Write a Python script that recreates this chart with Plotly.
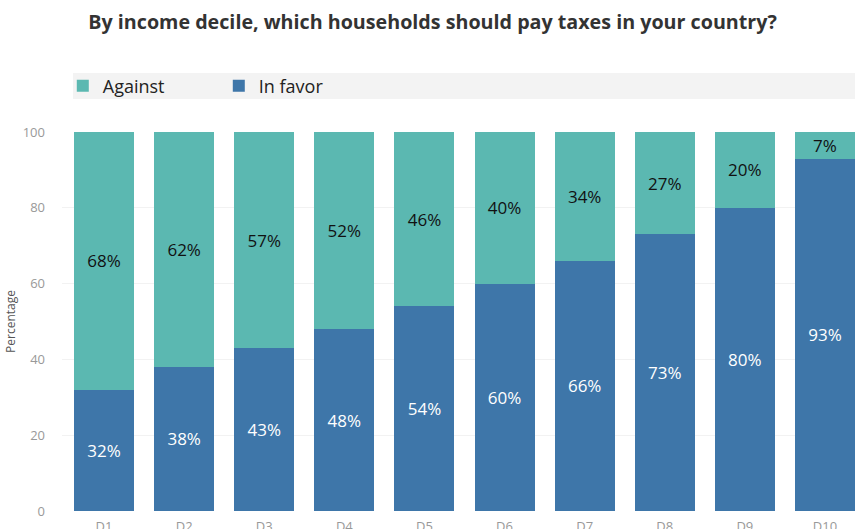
import plotly.graph_objects as go

deciles = ["D1", "D2", "D3", "D4", "D5", "D6", "D7", "D8", "D9", "D10"]
in_favor = [32, 38, 43, 48, 54, 60, 66, 73, 80, 93]
against = [68, 62, 57, 52, 46, 40, 34, 27, 20, 7]

FONT = "Open Sans"
fig = go.Figure()
fig.add_trace(go.Bar(
    x=deciles, y=in_favor, name="In favor", marker_color="#3e76a9",
    text=[f"{v}%" for v in in_favor], textposition="inside", constraintext="none",
    insidetextanchor="middle", textfont=dict(color="white", size=17, family=FONT),
    marker_line_width=0,
))
fig.add_trace(go.Bar(
    x=deciles, y=against, name="Against", marker_color="#5bb8b1",
    text=[f"{v}%" for v in against], textposition="inside", constraintext="none",
    insidetextanchor="middle", textfont=dict(color="#111111", size=17, family=FONT),
    marker_line_width=0,
))

fig.add_shape(type="rect", xref="paper", yref="paper", x0=0.0139, x1=1.0,
              y0=1.087, y1=1.156, fillcolor="#f3f3f3", line_width=0, layer="below")

fig.update_layout(
    width=860, height=529,
    barmode="stack", bargap=0.25,
    uniformtext=dict(minsize=17, mode="show"),
    margin=dict(l=62, r=5, t=132, b=18),
    paper_bgcolor="white", plot_bgcolor="white",
    font=dict(family=FONT, color="#444444"),
    title=dict(text="<b>By income decile, which households should pay taxes in your country?</b>",
               x=0.503, xanchor="center", y=0.958, yanchor="middle",
               font=dict(size=19.7, color="#333333", family=FONT)),
    legend=dict(orientation="h", x=0.001, xanchor="left", y=1.1214, yanchor="middle",
                traceorder="reversed", entrywidth=111, bgcolor="rgba(0,0,0,0)",
                font=dict(size=18, color="#222222", family=FONT), itemclick=False),
    showlegend=True,
)
fig.update_yaxes(range=[0, 100], tickvals=[0, 20, 40, 60, 80, 100],
                 gridcolor="#f2f2f2", zeroline=False, automargin=False,
                 ticklabelstandoff=16,
                 tickfont=dict(size=13, color="#999999"),
                 title=dict(text="Percentage", font=dict(size=12, color="#555555"), standoff=4))
fig.update_xaxes(range=[-0.525, 9.375], automargin=False,
                 tickfont=dict(size=13, color="#999999"), ticks="outside",
                 ticklen=3, tickcolor="white", showline=False)

fig.write_html("out.html")
